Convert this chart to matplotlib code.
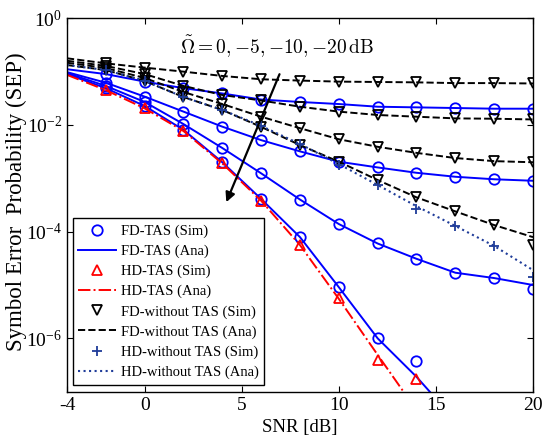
import matplotlib
matplotlib.use("Agg")
import matplotlib.pyplot as plt
from matplotlib.ticker import FixedLocator, NullLocator, LogFormatterSciNotation

plt.rcParams['font.family'] = ['Liberation Serif', 'DejaVu Serif']
plt.rcParams['axes.unicode_minus'] = False

# SNR points (dB)
snr_ana = [-4, -2, 0, 2, 4, 6, 8, 10, 12, 14, 16, 18, 20]
snr_sim = [-2, 0, 2, 4, 6, 8, 10, 12, 14, 16, 18, 20]

# FD-TAS, analytical, for Omega = 0, -5, -10, -20 dB
fd_tas_0 = [0.111, 0.090, 0.065, 0.049, 0.039, 0.030, 0.027, 0.0247, 0.022, 0.0214, 0.0208, 0.0202, 0.0202]
fd_tas_m5 = [0.098, 0.062, 0.034, 0.0178, 0.0093, 0.0052, 0.0032, 0.00205, 0.0016, 0.00127, 0.00107, 0.00096, 0.00090]
fd_tas_m10 = [0.094, 0.054, 0.027, 0.0104, 0.0037, 0.00124, 0.00040, 0.000139, 0.000060, 0.000031, 0.000017, 0.0000135, 0.0000100]
fd_tas_m20 = [0.090, 0.049, 0.0227, 0.0081, 0.0020, 0.00041, 7.9e-5, 9.1e-6, 1.0e-6, 1.9e-7, 2.9e-8]
# FD-TAS, simulation (only where it differs from the analysis)
fd_tas_m10_sim = [0.054, 0.027, 0.0104, 0.0037, 0.00124, 0.00040, 0.000139, 0.000060, 0.000031, 0.000017, 0.0000135, 0.0000083]
fd_tas_m20_sim = [0.049, 0.0227, 0.0081, 0.0020, 0.00041, 7.9e-5, 9.1e-6, 1.0e-6, 3.8e-7]

# HD-TAS
hd_tas = [0.087, 0.045, 0.0205, 0.0077, 0.0019, 0.00038, 5.6e-5, 5.5e-6, 4.9e-7, 4.5e-8]
hd_tas_sim = [0.045, 0.0205, 0.0077, 0.0019, 0.00038, 5.6e-5, 5.6e-6, 4.0e-7, 1.7e-7]

# FD without TAS
fd_wo_0 = [0.178, 0.143, 0.119, 0.100, 0.083, 0.072, 0.068, 0.065, 0.064, 0.063, 0.061, 0.061, 0.060]
fd_wo_m5 = [0.160, 0.128, 0.090, 0.054, 0.0365, 0.0288, 0.022, 0.0178, 0.0154, 0.0143, 0.0133, 0.0131, 0.0127]
fd_wo_m10 = [0.147, 0.117, 0.076, 0.0415, 0.0247, 0.0143, 0.0087, 0.0054, 0.0039, 0.0030, 0.0024, 0.0021, 0.0020]
fd_wo_m20 = [0.133, 0.107, 0.067, 0.0334, 0.0191, 0.0092, 0.0042, 0.00205, 0.00093, 0.00044, 0.00024, 0.000133, 0.000079]
fd_wo_m20_sim = [0.107, 0.067, 0.0334, 0.0191, 0.0092, 0.0042, 0.00205, 0.00093, 0.00044, 0.00024, 0.000133, 0.000056]

# HD without TAS
hd_wo = [0.133, 0.107, 0.067, 0.0334, 0.0191, 0.0096, 0.0044, 0.00185, 0.00075, 0.00030, 0.000128, 0.000054, 0.000019]
hd_wo_sim = [0.107, 0.067, 0.0334, 0.0191, 0.0096, 0.0044, 0.0018, 0.00074, 0.00027, 0.000128, 0.000054, 0.000014]

blue = '#0000ff'
navy = '#1f3c99'
ms = 7.5
mew = 1.3

fig = plt.figure(figsize=(5.54, 4.4), dpi=100)
ax = fig.add_axes([0.1209, 0.1098, 0.8412, 0.8486])

fd_tas_ana = [fd_tas_0, fd_tas_m5, fd_tas_m10, fd_tas_m20]
fd_tas_sim = [fd_tas_0[1:], fd_tas_m5[1:], fd_tas_m10_sim, fd_tas_m20_sim]
fd_wo_ana = [fd_wo_0, fd_wo_m5, fd_wo_m10, fd_wo_m20]
fd_wo_sim = [fd_wo_0[1:], fd_wo_m5[1:], fd_wo_m10[1:], fd_wo_m20_sim]

h = {}
for i in range(4):
    y = fd_tas_sim[i]
    h['a'], = ax.plot(snr_sim[:len(y)], y, 'o', color=blue, mfc='none', ms=ms, mew=mew)
    y = fd_tas_ana[i]
    h['b'], = ax.plot(snr_ana[:len(y)], y, '-', color=blue, lw=1.4)

h['c'], = ax.plot(snr_sim[:len(hd_tas_sim)], hd_tas_sim, '^', color='red', mfc='none', ms=ms, mew=mew)
h['d'], = ax.plot(snr_ana[:len(hd_tas)], hd_tas, '-.', color='red', lw=1.4)

for i in range(4):
    h['e'], = ax.plot(snr_sim, fd_wo_sim[i], 'v', color='black', mfc='none', ms=ms, mew=mew)
    h['f'], = ax.plot(snr_ana, fd_wo_ana[i], '--', color='black', lw=1.4)

h['g'], = ax.plot(snr_sim, hd_wo_sim, '+', color=navy, ms=ms, mew=mew)
h['h'], = ax.plot(snr_ana, hd_wo, ':', color=navy, lw=1.5)

ax.set_yscale('log')
ax.set_xlim(-4, 20)
ax.set_ylim(1e-7, 1)
ax.xaxis.set_major_locator(FixedLocator([-4, 0, 5, 10, 15, 20]))
ax.yaxis.set_major_locator(FixedLocator([1e-6, 1e-4, 1e-2, 1]))
ax.yaxis.set_minor_locator(NullLocator())
ax.yaxis.set_major_formatter(LogFormatterSciNotation())
ax.tick_params(direction='in', top=True, right=True, length=4, width=0.8, labelsize=14)
for s in ax.spines.values():
    s.set_linewidth(1.0)

ax.set_xlabel('SNR [dB]', fontsize=13.5)
ax.set_ylabel('Symbol Error  Probability (SEP)', fontsize=16.5)
ax.yaxis.set_label_coords(-0.086, 0.51)

ax.text(1.8, 0.29, r'$\tilde{\Omega}=0,{-5},{-10},{-20}\,\mathrm{dB}$', fontsize=14,
        math_fontfamily='cm', va='center', ha='left')
ax.annotate('', xy=(4.15, 3.2e-4), xytext=(7.0, 0.1),
            arrowprops=dict(arrowstyle='-|>', color='black', lw=1.6, mutation_scale=14))

labels = ['FD-TAS (Sim)', 'FD-TAS (Ana)', 'HD-TAS (Sim)', 'HD-TAS (Ana)',
          'FD-without TAS (Sim)', 'FD-without TAS (Ana)', 'HD-without TAS (Sim)', 'HD-without TAS (Ana)']
leg = ax.legend([h[k] for k in 'abcdefgh'], labels, loc='lower left',
                bbox_to_anchor=(0.012, 0.018), fontsize=10.5, frameon=True, fancybox=False,
                edgecolor='black', framealpha=1, handlelength=2.6, handletextpad=0.3,
                labelspacing=0.46, borderpad=0.4, borderaxespad=0)
leg.get_frame().set_linewidth(1.0)

fig.savefig('out.png', dpi=100)
